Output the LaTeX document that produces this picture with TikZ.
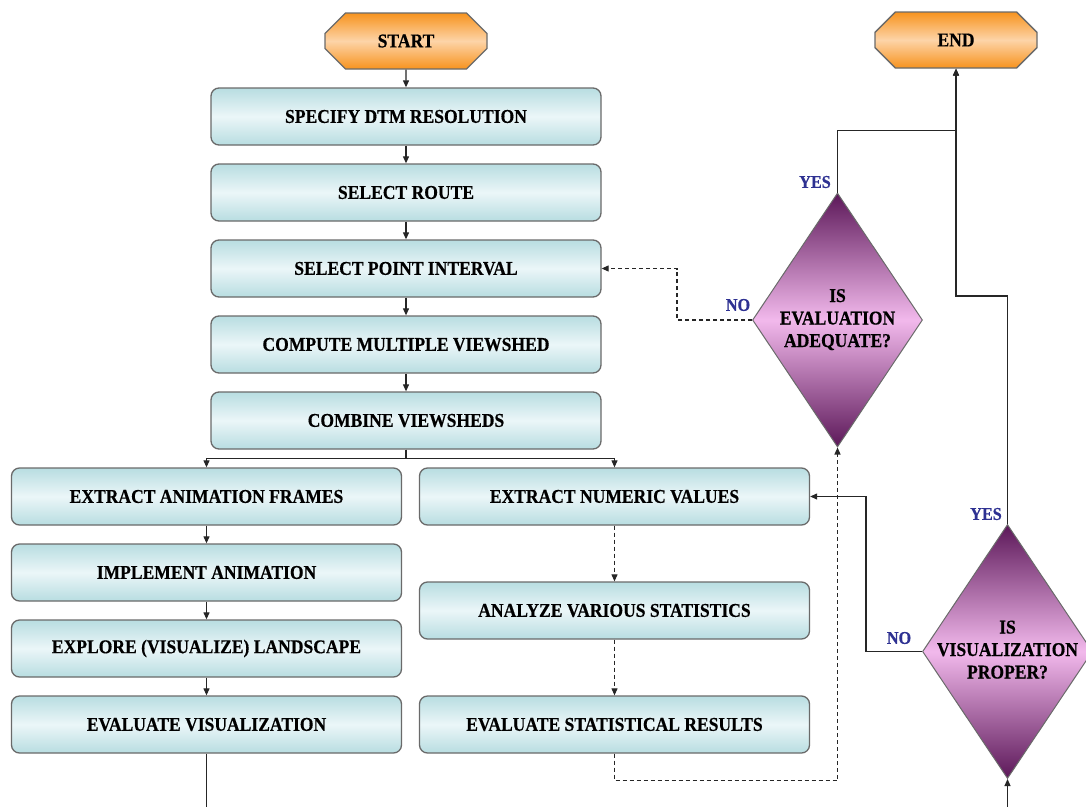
\documentclass[tikz,border=0pt]{standalone}
\usepackage{fontspec}
\setmainfont{Liberation Serif}[FakeStretch=0.9,BoldFeatures={FakeBold=0.5}]
\usetikzlibrary{shapes.geometric,shapes.misc,arrows.meta}
\definecolor{boxedge}{HTML}{B8DDE1}
\definecolor{boxmid}{HTML}{EBF6F8}
\definecolor{orng}{HTML}{F7931E}
\definecolor{orngmid}{HTML}{FDD4A8}
\definecolor{purp}{HTML}{5C1859}
\definecolor{purpmid}{HTML}{F2B9EC}
\definecolor{lblblue}{HTML}{2E3192}
\definecolor{edgegray}{HTML}{6A6A6A}
\tikzset{
  txt/.style={font=\bfseries\fontsize{19.5}{22.5}\selectfont},
  procbox/.style={txt, rectangle, rounded corners=8pt, draw=edgegray, line width=1.3pt,
    top color=boxedge, bottom color=boxedge, middle color=boxmid,
    minimum width=390pt, minimum height=57pt, inner sep=0pt},
  termbox/.style={txt, chamfered rectangle, chamfered rectangle xsep=18pt, chamfered rectangle ysep=14pt,
    draw=edgegray, line width=1.3pt, top color=orng, bottom color=orng, middle color=orngmid,
    minimum width=162pt, minimum height=56pt, inner sep=0pt},
  decbox/.style={txt, diamond, draw=edgegray, line width=1pt,
    top color=purp, bottom color=purp, middle color=purpmid,
    minimum width=170pt, minimum height=254pt, inner sep=0pt},
  lbl/.style={font=\bfseries\fontsize{18}{20}\selectfont, text=lblblue, inner sep=0pt},
  conn/.style={draw=black!85, line width=1.1pt},
  arr/.style={conn, -{Triangle[length=7pt,width=6pt]}},
  dsh/.style={dash pattern=on 4pt off 3pt},
}
\newcommand{\dectext}[3]{\makebox[80pt]{\begin{tabular}{@{}c@{}}#1\\#2\\#3\end{tabular}}}
\begin{document}
\begin{tikzpicture}[x=1pt,y=-1pt]
\useasboundingbox (0,0) rectangle (1086,806);
\clip (0,0) rectangle (1086,806);
\fill[white] (0,0) rectangle (1086,806);
% terminals
\node[termbox] (start) at (406,41) {START};
\node[termbox] (endn) at (956,40) {END};
% top column
\node[procbox] (sdr) at (406,116.5) {SPECIFY DTM RESOLUTION};
\node[procbox] (sr)  at (406,192.5) {SELECT ROUTE};
\node[procbox] (spi) at (406,268.5) {SELECT POINT INTERVAL};
\node[procbox] (cmv) at (406,344.5) {COMPUTE MULTIPLE VIEWSHED};
\node[procbox] (cv)  at (406,420.5) {COMBINE VIEWSHEDS};
% left column
\node[procbox] (eaf) at (206.5,496.5) {EXTRACT ANIMATION FRAMES};
\node[procbox] (ia)  at (206.5,572.5) {IMPLEMENT ANIMATION};
\node[procbox] (evl) at (206.5,648.5) {EXPLORE (VISUALIZE) LANDSCAPE};
\node[procbox] (ev)  at (206.5,724.5) {EVALUATE VISUALIZATION};
% right column
\node[procbox] (env) at (614.5,496.5) {EXTRACT NUMERIC VALUES};
\node[procbox] (avs) at (614.5,610.5) {ANALYZE VARIOUS STATISTICS};
\node[procbox] (esr) at (614.5,724.5) {EVALUATE STATISTICAL RESULTS};
% decisions
\node[decbox] (d1) at (837.5,320) {\dectext{IS}{EVALUATION}{ADEQUATE?}};
\node[decbox] (d2) at (1007.5,651.5) {\dectext{IS}{VISUALIZATION}{PROPER?}};
% labels
\node[lbl] (y1) at (815,182) {YES};
\node[lbl] (n1) at (738,305) {NO};
\node[lbl] (y2) at (986,514) {YES};
\node[lbl] (n2) at (899,638) {NO};
% connectors
\draw[arr] (start) -- (sdr);
\draw[arr] (sdr) -- (sr);
\draw[arr] (sr) -- (spi);
\draw[arr] (spi) -- (cmv);
\draw[arr] (cmv) -- (cv);
\draw[arr] (cv.south) -- ++(0,9) -| (eaf.north);
\draw[arr] (cv.south) -- ++(0,9) -| (env.north);
\draw[arr] (eaf) -- (ia);
\draw[arr] (ia) -- (evl);
\draw[arr] (evl) -- (ev);
\draw[arr,dsh] (env) -- (avs);
\draw[arr,dsh] (avs) -- (esr);
\draw[arr,dsh] (esr.south) -- ++(0,27) -| (d1.south);
\draw[arr,dsh] (d1.west) -- ++(-75,0) |- (spi.east);
\draw[arr] (d1.north) -- ++(0,-62) -| (endn.south);
\draw[arr] (d2.north) -- ++(0,-228) -| (endn.south);
\draw[arr] (d2.west) -- ++(-56,0) |- (env.east);
\draw[arr] (ev.south) -- ++(0,80) -| (d2.south);
\end{tikzpicture}
\end{document}
